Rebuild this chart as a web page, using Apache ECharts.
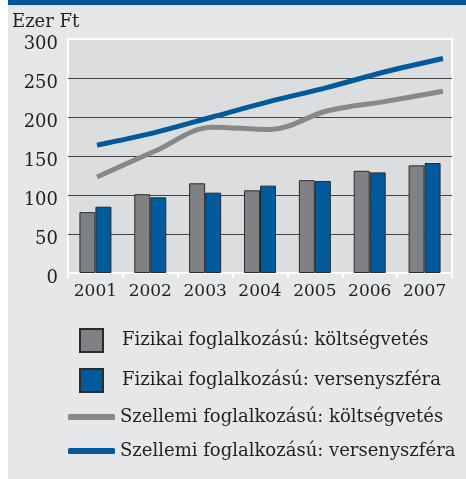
<!DOCTYPE html>
<html lang="hu">
<head>
    <meta charset="UTF-8">
    <title>Ezer Ft</title>
    <style>
        html, body { margin: 0; padding: 0; background: #ffffff; }
        #chart { width: 466px; height: 479px; }
    </style>
    <script src="https://cdn.jsdelivr.net/npm/echarts@6/dist/echarts.min.js"></script>
</head>
<body>
    <div id="chart"></div>
    <script>
        // adatok
        var years = ['2001', '2002', '2003', '2004', '2005', '2006', '2007'];
        var fizikaiKoltseg = [78, 101, 115, 106, 119, 131, 138];
        var fizikaiVerseny = [85, 97, 103, 112, 118, 129, 141];
        var szellemiKoltseg = [123, 156, 187, 184, 208, 220, 233];
        var szellemiVerseny = [164, 180, 200, 220, 238, 258, 275];
        var names = [
            'Fizikai foglalkozású: költségvetés',
            'Fizikai foglalkozású: versenyszféra',
            'Szellemi foglalkozású: költségvetés',
            'Szellemi foglalkozású: versenyszféra'
        ];

        var font = 'DejaVu Serif';
        var textColor = '#231f20';
        var gray = '#808184';
        var blue = '#005a9b';

        function pairs(arr) {
            return arr.map(function (v, i) { return [i, v]; });
        }

        var chart = echarts.init(document.getElementById('chart'));

        var option = {
            backgroundColor: '#e6e7e8',
            animation: false,
            graphic: [
                { type: 'rect', left: 0, top: 0, shape: { width: 8, height: 479 }, style: { fill: '#ffffff' } },
                { type: 'rect', left: 8, top: 0, shape: { width: 458, height: 5 }, style: { fill: '#00569a' } }
            ],
            title: {
                text: 'Ezer Ft',
                left: 7,
                top: 8,
                textStyle: { fontFamily: font, fontSize: 18, fontWeight: 'normal', color: textColor }
            },
            legend: [
                {
                    orient: 'vertical',
                    left: 79,
                    top: 328,
                    padding: 0,
                    itemWidth: 23,
                    itemHeight: 23,
                    itemGap: 15,
                    icon: 'rect',
                    data: [names[0], names[1]],
                    textStyle: { fontFamily: font, fontSize: 18, color: textColor, padding: [0, 0, 0, 14] }
                },
                {
                    orient: 'vertical',
                    left: 68,
                    top: 407,
                    padding: 0,
                    itemWidth: 47,
                    itemHeight: 6,
                    itemGap: 14,
                    icon: 'roundRect',
                    data: [names[2], names[3]],
                    textStyle: { fontFamily: font, fontSize: 18, color: textColor, lineHeight: 20 }
                }
            ],
            grid: {
                left: 68,
                right: 14,
                top: 39,
                bottom: 206,
                show: true,
                backgroundColor: '#dcddde',
                borderColor: '#ffffff',
                borderWidth: 2
            },
            xAxis: [
                {
                    type: 'category',
                    data: years,
                    position: 'bottom',
                    axisLine: { lineStyle: { color: '#ffffff', width: 2 } },
                    axisTick: { show: true, length: 5, lineStyle: { color: '#ffffff', width: 2 } },
                    axisLabel: { interval: 0, fontFamily: font, fontSize: 17, color: textColor, margin: 10 }
                },
                {
                    type: 'value',
                    position: 'top',
                    min: -0.503,
                    max: 6.156,
                    show: false
                }
            ],
            yAxis: {
                type: 'value',
                min: 0,
                max: 300,
                interval: 50,
                axisLine: { show: false },
                axisTick: { show: false },
                axisLabel: {
                    margin: 10,
                    formatter: '{a|{value}}',
                    rich: {
                        a: { fontFamily: font, fontSize: 18, color: textColor, padding: [10, 0, 0, 0] }
                    }
                },
                splitLine: { showMinLine: false, showMaxLine: false, lineStyle: { color: '#444444', width: 1 } }
            },
            series: [
                {
                    name: names[0],
                    type: 'bar',
                    xAxisIndex: 0,
                    data: fizikaiKoltseg,
                    barWidth: 16,
                    barGap: '0%',
                    itemStyle: { color: gray, borderColor: '#2b2b2b', borderWidth: 1 }
                },
                {
                    name: names[1],
                    type: 'bar',
                    xAxisIndex: 0,
                    data: fizikaiVerseny,
                    barWidth: 16,
                    barGap: '0%',
                    itemStyle: { color: blue, borderColor: '#2b2b2b', borderWidth: 1 }
                },
                {
                    name: names[2],
                    type: 'line',
                    xAxisIndex: 1,
                    data: pairs(szellemiKoltseg),
                    smooth: 0.35,
                    symbol: 'none',
                    lineStyle: { color: '#87888b', width: 5 },
                    itemStyle: { color: '#87888b' }
                },
                {
                    name: names[3],
                    type: 'line',
                    xAxisIndex: 1,
                    data: pairs(szellemiVerseny),
                    smooth: 0.35,
                    symbol: 'none',
                    lineStyle: { color: blue, width: 5 },
                    itemStyle: { color: blue }
                }
            ]
        };

        chart.setOption(option);
    </script>
</body>
</html>
